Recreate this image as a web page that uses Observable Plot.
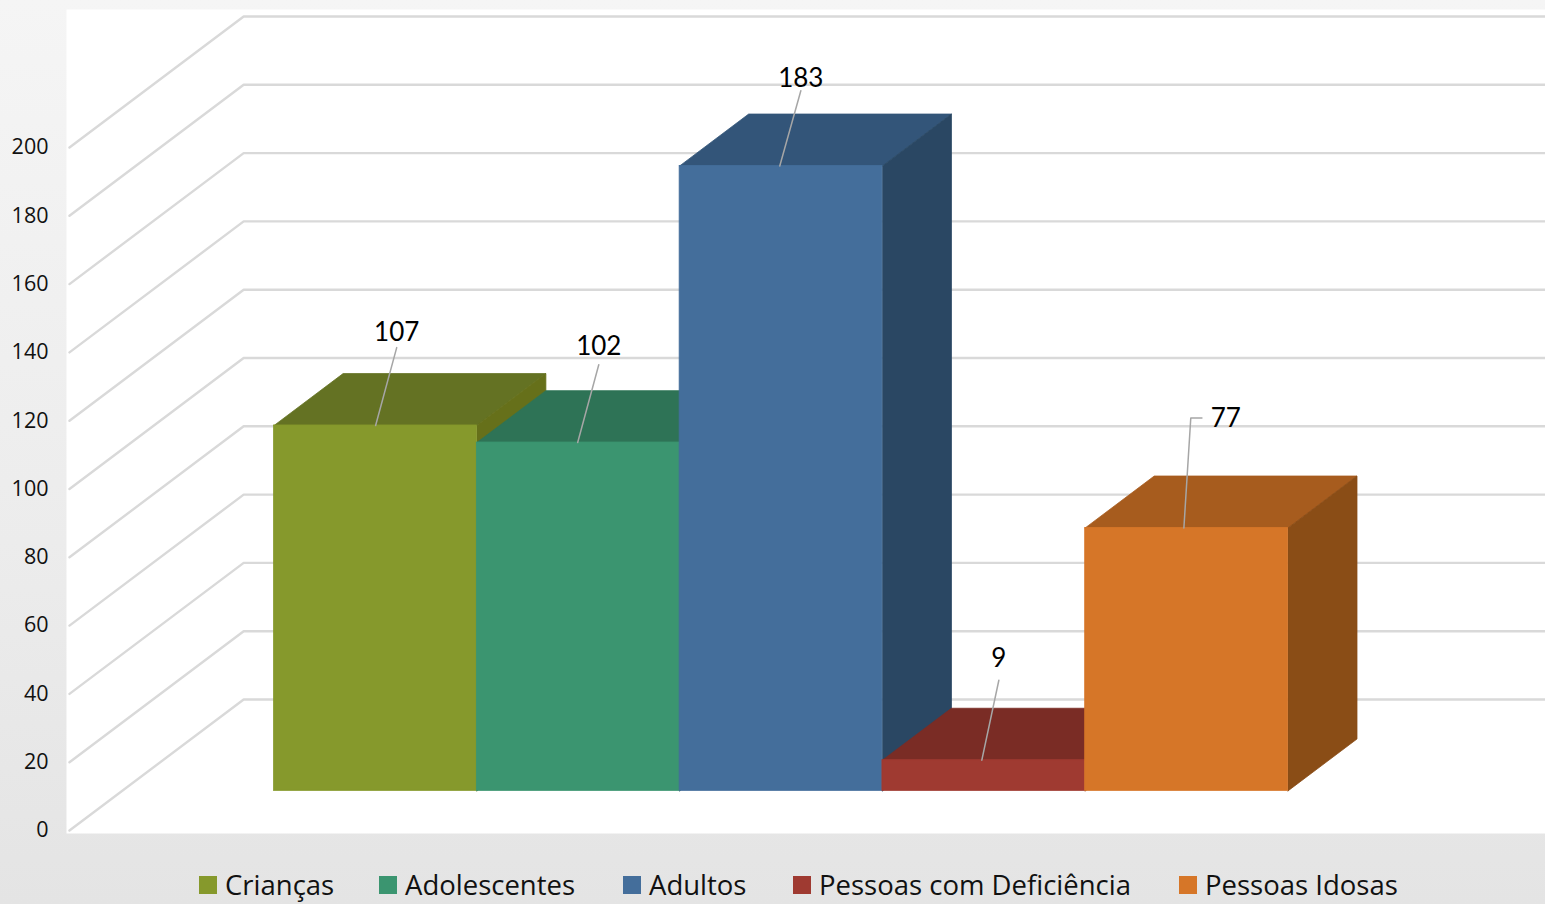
<!DOCTYPE html>
<html>
<head>
<meta charset="utf-8">
<script src="https://cdn.jsdelivr.net/npm/d3@7"></script>
<script src="https://cdn.jsdelivr.net/npm/@observablehq/plot@0.6"></script>
<style>
  html, body { margin: 0; padding: 0; overflow: hidden; width: 1545px; height: 904px;
    background: linear-gradient(to bottom, #f5f5f5 0%, #ececec 60%, #e4e4e4 100%); }
  svg { display: block; background: transparent !important; }
  #legend { position: relative; height: 54px; font-family: "Open Sans", sans-serif; font-size: 27.5px; color: #111; }
  #legend .item { position: absolute; top: 20px; display: flex; align-items: center; white-space: nowrap; height: 30px; }
  #legend .sw { width: 18px; height: 18px; margin-right: 8px; }
  #legend .lab { display: inline-block; line-height: 30px; height: 30px; }
</style>
</head>
<body>
<div id="chart"></div>
<div id="legend"></div>
<script>
// Data
const categories = ["Crianças", "Adolescentes", "Adultos", "Pessoas com Deficiência", "Pessoas Idosas"];
const values = [107, 102, 183, 9, 77];
const axisTicks = [0, 20, 40, 60, 80, 100, 120, 140, 160, 180, 200];

// Face colours
const frontColors = ["#86992c", "#3b9570", "#446e9b", "#9f3a31", "#d67628"];
const topColors = ["#647223", "#2e7356", "#335579", "#7a2c25", "#a75c1e"];
const sideColors = ["#66701a", "#2a6e50", "#2a4763", "#77291f", "#8a4d16"];

// Pseudo-3D projection, in data units (x: one bar width, y: one axis unit)
const floor = 11.6;          // bars stand above the front of the floor
const barDepthX = 0.3404, barDepthY = 15.2;
const wallDepthY = 38.36;
const wallFrontX = -1.009, wallBackX = -0.15, wallEndX = 6.27;

// Leader lines: from a point on a bar's front top edge to the label
const leaderBase = [0.5007, 0.4972, 0.4937, 0.4902, 0.4867];
const leaderDx = [0.104, 0.104, 0.104, 0.084, 0.034];
const leaderDy = [22.8, 22.8, 22.0, 23.4, 32.2];
const textDx = [0.104, 0.104, 0.104, 0.084, 0.207];
const textDy = [27.2, 28.2, 25.7, 29.8, 32];

const marks = [Plot.frame({fill: "white", stroke: "none"})];

for (const t of axisTicks) {
  marks.push(Plot.line(
    [[wallFrontX, t], [wallBackX, t + wallDepthY], [wallEndX, t + wallDepthY]],
    {stroke: "#d9d9d9", strokeWidth: 2.4}
  ));
}

values.forEach((v, i) => {
  const top = floor + v;
  // top face
  marks.push(Plot.line(
    [[i, top], [i + barDepthX, top + barDepthY], [i + 1 + barDepthX, top + barDepthY], [i + 1, top], [i, top]],
    {fill: topColors[i], stroke: topColors[i], strokeWidth: 0.8}
  ));
  // side face
  marks.push(Plot.line(
    [[i + 1, floor], [i + 1 + barDepthX, floor + barDepthY], [i + 1 + barDepthX, top + barDepthY], [i + 1, top], [i + 1, floor]],
    {fill: sideColors[i], stroke: sideColors[i], strokeWidth: 0.8}
  ));
  // front face
  marks.push(Plot.rect([v], {
    x1: () => i, x2: () => i + 1, y1: () => floor, y2: d => floor + d,
    fill: frontColors[i], stroke: frontColors[i], strokeWidth: 0.8
  }));
});

// Leaders and value labels
values.forEach((v, i) => {
  const top = floor + v;
  const b = i + leaderBase[i];
  const pts = [[b, top], [b + leaderDx[i], top + leaderDy[i]]];
  if (textDx[i] - leaderDx[i] > 0.1) pts.push([b + leaderDx[i] + 0.055, top + leaderDy[i]]);
  marks.push(Plot.line(pts, {stroke: "#a6a6a6", strokeWidth: 1.5}));
  marks.push(Plot.text([v], {
    x: () => b + textDx[i],
    y: d => floor + d + textDy[i],
    text: d => String(d),
    fontFamily: "Lato, sans-serif",
    fontSize: 26,
    fill: "#000"
  }));
});

marks.push(Plot.axisY(axisTicks, {
  anchor: "left",
  tickSize: 0,
  tickPadding: 18,
  label: null,
  fontFamily: "'Open Sans', sans-serif",
  fontSize: 21.5,
  fill: "#111"
}));

const chart = Plot.plot({
  width: 1545,
  height: 850,
  marginLeft: 66,
  marginRight: 0,
  marginTop: 9,
  marginBottom: 17,
  x: {type: "linear", domain: [-1.0237, 6.27], axis: null},
  y: {type: "linear", domain: [-0.88, 240.41], axis: null},
  style: {background: "transparent", overflow: "visible"},
  marks
});
document.getElementById("chart").appendChild(chart);

// Legend
const legendLeft = [199, 379, 623, 793, 1179];
const legend = document.getElementById("legend");
categories.forEach((c, i) => {
  const item = document.createElement("div");
  item.className = "item";
  item.style.left = legendLeft[i] + "px";
  const sw = document.createElement("span");
  sw.className = "sw";
  sw.style.background = frontColors[i];
  const lab = document.createElement("span");
  lab.className = "lab";
  lab.textContent = c;
  item.append(sw, lab);
  legend.appendChild(item);
});
</script>
</body>
</html>
